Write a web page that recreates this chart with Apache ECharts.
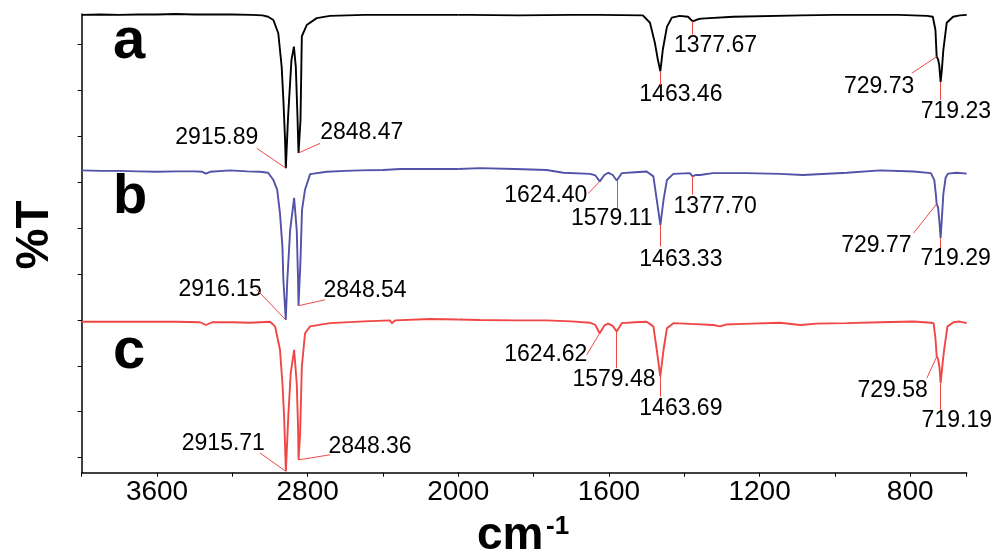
<!DOCTYPE html>
<html><head><meta charset="utf-8">
<script src="https://cdn.jsdelivr.net/npm/echarts@6.0.0/dist/echarts.min.js"></script>
<style>html,body{margin:0;padding:0;background:#fff}#c{width:994px;height:559px}</style>
</head><body><div id="c"></div>
<script>
// ---- data (wavenumber cm-1, %T offset units) ----
const specA = [[4000,96.5],[3900,96.6],[3800,96.5],[3700,96.6],[3600,96.6],[3500,96.7],[3400,96.6],[3300,96.6],[3200,96.6],[3100,96.5],[3040,96.4],[3010,96.1],[2982,95.4],[2956,92.5],[2938,85.2],[2929,78.0],[2920,69.3],[2915.89,63.1],[2904,74.3],[2886,86.7],[2873,89.6],[2863,85.2],[2854,74.3],[2848.47,66.4],[2838,73.6],[2831,91.8],[2805,94.3],[2752,95.8],[2681,96.3],[2500,96.5],[2300,96.5],[2150,96.5],[2000,96.5],
  [1970,96.5],[1840,96.4],[1700,96.5],[1624,96.5],[1510,96.4],[1491,94.8],[1478,90.4],[1470,86.7],[1463.46,84.2],[1457,88.9],[1446,93.9],[1433,95.9],[1412,96.3],[1390,96.1],[1377.67,95.1],[1366,95.5],[1355,95.7],[1270,96.1],[1090,96.4],[1000,96.5],[830,96.5],[755,96.3],[740,96.1],[733,93.2],[729.73,87.4],[726,86.8],[723,85.6],[719.23,81.9],[716,84.5],[712,88.9],[703,94.8],[686,96.1],[668,96.4],[650,96.5]];
const specB = [[4000,62.6],[3900,62.5],[3800,62.5],[3700,62.4],[3600,62.3],[3500,62.4],[3400,62.4],[3360,62.3],[3340,61.9],[3318,62.3],[3250,62.5],[3212,62.6],[3120,62.4],[3053,62.3],[3010,62.1],[2982,60.5],[2962,58.4],[2947,53.3],[2934,46.0],[2929,38.7],[2916.15,30.0],[2908,38.7],[2893,49.6],[2872,56.6],[2858,49.6],[2851,38.7],[2848.54,33.1],[2838,43.1],[2830,54.0],[2814,58.4],[2787,61.8],[2699,62.3],[2600,62.5],[2522,62.6],[2400,62.7],[2309,62.9],[2150,62.9],[2000,62.9],
  [1942,63.1],[1850,62.9],[1765,62.7],[1721,62.1],[1650,61.85],[1636,61.5],[1624.40,60.2],[1612,61.6],[1602,62.1],[1590,61.6],[1579.11,60.4],[1566,62.0],[1530,62.2],[1500,62.35],[1482,61.3],[1473,56.2],[1463.33,50.7],[1455,56.2],[1446,60.5],[1429,61.85],[1385,62.0],[1377.70,61.3],[1370,61.6],[1358,61.6],[1324,62.0],[1234,62.0],[1146,61.85],[1085,61.6],[968,62.1],[880,62.6],[791,62.35],[745,62.0],[736,60.5],[732,57.5],[729.77,55.3],[726,54.5],[722,51],[719.29,47.8],[716,52],[712,57.5],[706,61],[700,61.9],[676,62.1],[650,61.9]];
const specC = [[4000,29.6],[3800,29.6],[3637,29.6],[3500,29.6],[3372,29.5],[3340,28.9],[3307,29.5],[3200,29.5],[3106,29.4],[3000,29.6],[2973,28.6],[2947,23.5],[2934,16.2],[2925,8.9],[2915.71,-3.0],[2903,8.9],[2890,18.4],[2872,23.5],[2858,16.2],[2851,6.8],[2848.36,-0.5],[2840,5.3],[2831,19.8],[2814,27.1],[2787,28.6],[2681,29.3],[2500,29.7],[2362,29.9],[2353,29.3],[2336,29.9],[2150,30.2],[2000,30.1],
  [1942,30.0],[1850,29.9],[1765,29.9],[1700,29.7],[1650,29.4],[1636,28.9],[1624.62,27.1],[1612,28.8],[1602,29.2],[1590,28.7],[1579.48,27.5],[1566,29.3],[1530,29.5],[1500,29.6],[1482,28.6],[1473,23.5],[1463.69,17.7],[1455,23.5],[1446,28.2],[1429,29.3],[1385,29.15],[1323,28.9],[1305,28.6],[1290,29.0],[1243,29.15],[1146,29.4],[1092,28.9],[1050,29.2],[968,29.3],[880,29.5],[791,29.65],[745,29.4],[738,29.3],[733,26.0],[729.58,22.0],[726,21.5],[722,19.5],[719.19,16.2],[714,20.5],[710,23.5],[701,28.6],[685,29.5],[668,29.65],[650,29.3]];

const peaksA = [2915.89, 2848.47, 1463.46, 1377.67, 729.73, 719.23];
const peaksB = [2916.15, 2848.54, 1624.40, 1579.11, 1463.33, 1377.70, 729.77, 719.29];
const peaksC = [2915.71, 2848.36, 1624.62, 1579.48, 1463.69, 729.58, 719.19];

const xTicksLeft = [4000, 3600, 3200, 2800, 2400, 2000];
const xLabelsLeft = [3600, 2800, 2000];
const xTicksRight = [1800, 1600, 1400, 1200, 1000, 800, 650];
const xLabelsRight = [1600, 1200, 800];
const yTicks = [0, 10, 20, 30, 40, 50, 60, 70, 80, 90];
const traceLetters = ['a', 'b', 'c'];

// ---- annotation layout (leader end, label centre) ----
const leaderA = [[3070,67.4],[2734,68.5],[1463.46,81.2],[1377.67,92.2],[795.8,83.8],[719.23,78.0]];
const textA   = [[3283,69.7],[2513,70.8],[1409,79.1],[1317,89.8],[882.6,80.9],[678.6,75.4]];
const leaderB = [[3070,36.6],[2707.6,34.4],[1654.7,57.6],[1579.11,54.4],[1463.33,46.0],[1377.70,57.3],[791.5,48.9],[719.29,45.7]];
const textB   = [[3265,36.6],[2495,36.3],[1767.6,57.1],[1592.6,52.0],[1409,43.1],[1318,54.7],[889.8,46.2],[679.4,43.3]];
const leaderC = [[3052.9,1.0],[2681,0.6],[1659,22.4],[1579.48,19.5],[1463.69,13.3],[755.9,17.3],[719.19,10.4]];
const textC   = [[3247.8,3.1],[2468.5,2.4],[1767.6,22.4],[1586.5,16.9],[1409,10.6],[846.8,14.6],[676.3,8.0]];

const BREAK = 2000;
const FONT = '"Liberation Sans", Arial, sans-serif';
const colors = ['#000000', '#5252a8', '#f04646'];
const leaderColor = '#ee4a44';

const specs = [specA, specB, specC];
const peaks = [peaksA, peaksB, peaksC];
const leaders = [leaderA, leaderB, leaderC];
const texts = [textA, textB, textC];

function peakValue(spec, w) {
  let best = spec[0];
  spec.forEach(p => { if (Math.abs(p[0] - w) < Math.abs(best[0] - w)) best = p; });
  return best[1];
}

const series = [];
specs.forEach((spec, si) => {
  const parts = [spec.filter(p => p[0] >= BREAK), spec.filter(p => p[0] <= BREAK)];
  parts.forEach((part, gi) => {
    const ml = [];
    const lbl = [];
    peaks[si].forEach((w, k) => {
      const g = w >= BREAK ? 0 : 1;
      if (g !== gi) return;
      ml.push([{ coord: [w, peakValue(spec, w)] }, { coord: leaders[si][k] }]);
      lbl.push({ value: texts[si][k], name: w.toFixed(2) });
    });
    series.push({
      type: 'line', xAxisIndex: gi, yAxisIndex: gi, data: part,
      showSymbol: false, symbol: 'none', animation: false, silent: true,
      lineStyle: { color: colors[si], width: 1.9 }, z: 3,
      markLine: {
        silent: true, symbol: ['none', 'none'], animation: false,
        label: { show: false },
        lineStyle: { color: leaderColor, width: 1, type: 'solid' },
        emphasis: { disabled: true },
        data: ml
      }
    });
    series.push({
      type: 'scatter', xAxisIndex: gi, yAxisIndex: gi, data: lbl,
      symbolSize: 0, animation: false, silent: true, z: 4, clip: false,
      itemStyle: { opacity: 1 },
      label: { show: true, position: 'inside', formatter: '{b}', color: '#000',
               fontSize: 23, fontFamily: FONT, textBorderWidth: 0 }
    });
  });
});

const axisLineStyle = { color: '#000', width: 1.5 };
const labelStyle = { color: '#000', fontSize: 28, fontFamily: FONT, margin: 6, formatter: v => String(v) };

const option = {
  backgroundColor: '#fff',
  animation: false,
  grid: [
    { left: 81.7, top: 14, width: 376.6, height: 458.7 },
    { left: 458.3, top: 14, width: 508.4, height: 458.7 }
  ],
  xAxis: [
    { gridIndex: 0, type: 'value', min: 2000, max: 4000, inverse: true,
      axisLine: { show: true, onZero: false, lineStyle: axisLineStyle },
      axisTick: { show: true, length: 4, customValues: xTicksLeft, lineStyle: { color: '#000', width: 1 } },
      axisLabel: Object.assign({ customValues: xLabelsLeft }, labelStyle),
      splitLine: { show: false } },
    { gridIndex: 1, type: 'value', min: 650, max: 2000, inverse: true,
      axisLine: { show: true, onZero: false, lineStyle: axisLineStyle },
      axisTick: { show: true, length: 4, customValues: xTicksRight, lineStyle: { color: '#000', width: 1 } },
      axisLabel: Object.assign({ customValues: xLabelsRight }, labelStyle),
      splitLine: { show: false } }
  ],
  yAxis: [
    { gridIndex: 0, type: 'value', min: -3.3, max: 96.7,
      axisLine: { show: true, onZero: false, lineStyle: axisLineStyle },
      axisTick: { show: true, length: 4, customValues: yTicks, lineStyle: { color: '#000', width: 1 } },
      axisLabel: { show: false }, splitLine: { show: false } },
    { gridIndex: 1, type: 'value', min: -3.3, max: 96.7, show: false,
      axisLine: { show: false }, axisTick: { show: false }, axisLabel: { show: false }, splitLine: { show: false } }
  ],
  graphic: [
    { type: 'text', x: 113, y: 41.6, style: { text: traceLetters[0], font: 'bold 58px ' + FONT, fill: '#000', align: 'left', verticalAlign: 'middle' } },
    { type: 'text', x: 113, y: 198, style: { text: traceLetters[1], font: 'bold 56px ' + FONT, fill: '#000', align: 'left', verticalAlign: 'middle' } },
    { type: 'text', x: 113, y: 352, style: { text: traceLetters[2], font: 'bold 58px ' + FONT, fill: '#000', align: 'left', verticalAlign: 'middle' } },
    { type: 'text', x: 35, y: 235, rotation: Math.PI / 2, style: { text: '%T', font: 'bold 46px ' + FONT, fill: '#000', align: 'center', verticalAlign: 'middle' } },
    { type: 'text', x: 477, y: 536, style: { text: 'cm', font: 'bold 46px ' + FONT, fill: '#000', align: 'left', verticalAlign: 'middle' } },
    { type: 'text', x: 546, y: 527, style: { text: '-1', font: 'bold 26px ' + FONT, fill: '#000', align: 'left', verticalAlign: 'middle' } }
  ],
  series: series
};

const chart = echarts.init(document.getElementById('c'), null, { renderer: 'canvas' });
chart.setOption(option);
</script></body></html>
